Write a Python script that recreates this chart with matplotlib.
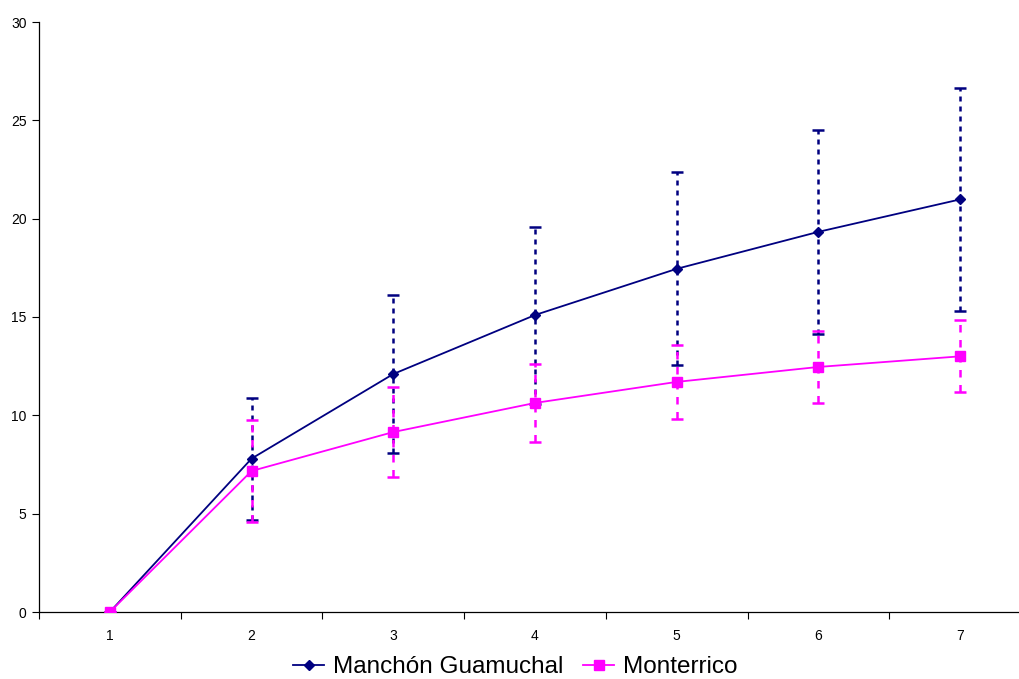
import numpy as np
import matplotlib.pyplot as plt

plt.rcParams['font.family'] = ['Liberation Sans', 'DejaVu Sans']

# datos
dias = [1, 2, 3, 4, 5, 6, 7]
manchon = [0, 7.8, 12.1, 15.1, 17.45, 19.33, 20.98]
manchon_err = [0, 3.1, 4.0, 4.5, 4.9, 5.2, 5.65]
monterrico = [0, 7.17, 9.15, 10.63, 11.7, 12.46, 13.0]
monterrico_err = [0, 2.6, 2.3, 2.0, 1.9, 1.85, 1.83]

azul = "#000080"
magenta = "#FF00FF"

fig = plt.figure(figsize=(10.2, 6.79), dpi=100)
ax = fig.add_axes([39 / 1020, 1 - 612 / 679, (1031 - 39) / 1020, (612 - 22) / 679])

# Barras de error
eb1 = ax.errorbar(dias, manchon, yerr=manchon_err, fmt="none", ecolor=azul,
                  elinewidth=1.8, capsize=4, capthick=1.8, zorder=2)
eb1[2][0].set_linestyle((0, (2, 2)))
eb2 = ax.errorbar(dias, monterrico, yerr=monterrico_err, fmt="none", ecolor=magenta,
                  elinewidth=1.8, capsize=4, capthick=1.8, zorder=3)
eb2[2][0].set_linestyle((0, (3, 3)))

# Series
ax.plot(dias, manchon, color=azul, marker="D", markersize=5, linewidth=1.3,
        label="Manchón Guamuchal", zorder=4)
ax.plot(dias, monterrico, color=magenta, marker="s", markersize=7, linewidth=1.3,
        label="Monterrico", zorder=5)

ax.set_xlim(0.5, 7.5)
ax.set_ylim(0, 30)
ax.set_yticks(np.arange(0, 31, 5))
ax.set_xticks(np.arange(0.5, 7.6, 1))
ax.set_xticklabels([])
ax.set_xticks(dias, minor=True)
ax.set_xticklabels([str(d) for d in dias], minor=True)
ax.tick_params(axis="x", which="minor", length=0, pad=12, labelsize=10)
ax.tick_params(axis="x", which="major", length=5, direction="out", width=0.8)
ax.tick_params(axis="y", length=5, direction="out", width=0.8, labelsize=10, pad=4)

for s in ["top", "right"]:
    ax.spines[s].set_visible(False)
for s in ["left", "bottom"]:
    ax.spines[s].set_linewidth(0.9)

fig.legend(loc="center", bbox_to_anchor=(0.505, 1 - 667 / 679), ncol=2, frameon=False,
           fontsize=17.5, handlelength=1.3, handletextpad=0.35, columnspacing=0.8,
           borderpad=0)

fig.savefig("out.png", dpi=100)
